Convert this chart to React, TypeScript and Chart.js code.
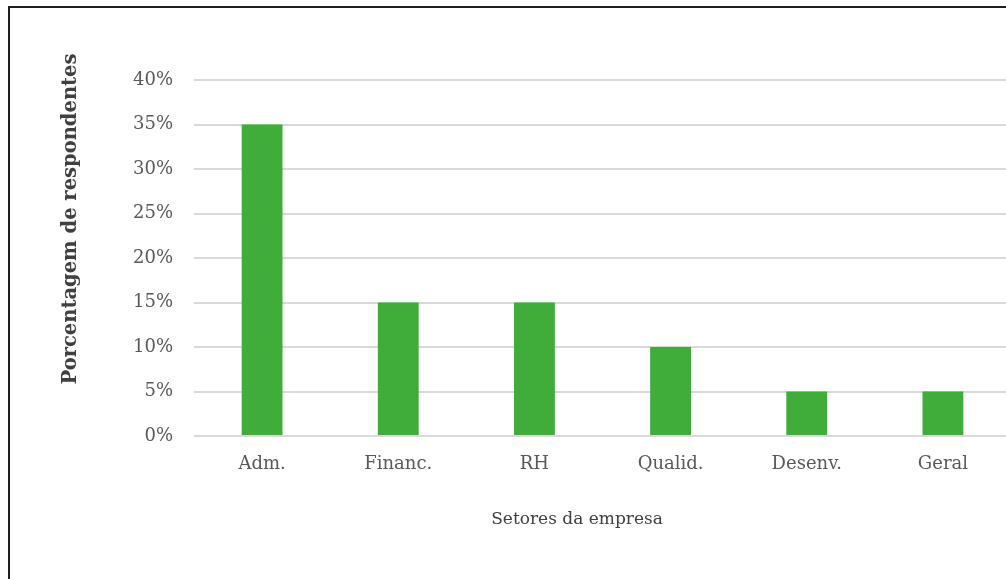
import React, { useEffect, useRef } from "react";
import { Chart, registerables } from "chart.js";

Chart.register(...registerables);

// Share of respondents by company sector (%)
const sectors: string[] = ["Adm.", "Financ.", "RH", "Qualid.", "Desenv.", "Geral"];
const respondentShare: number[] = [35, 15, 15, 10, 5, 5];
const yTickValues: number[] = [0, 5, 10, 15, 20, 25, 30, 35, 40];

const yTitle = "Porcentagem de respondentes";
const xTitle = "Setores da empresa";

const FONT = "'DejaVu Serif', serif";
const BAR_GREEN = "#40ad3a";
const GRID_GREY = "#d9d9d9";
const TICK_GREY = "#595959";
const TITLE_GREY = "#404040";

// Axis titles are placed by hand, relative to the plot area
const axisTitles = {
  id: "axisTitles",
  afterDraw(chart: Chart) {
    const { ctx, chartArea } = chart;
    ctx.save();
    ctx.fillStyle = TITLE_GREY;
    ctx.textAlign = "center";
    ctx.textBaseline = "middle";

    ctx.font = `bold 19.5px ${FONT}`;
    ctx.translate(chartArea.left - 123, chartArea.top + 139);
    ctx.rotate(-Math.PI / 2);
    ctx.fillText(yTitle, 0, 0);
    ctx.restore();

    ctx.save();
    ctx.fillStyle = TITLE_GREY;
    ctx.textAlign = "center";
    ctx.textBaseline = "middle";
    ctx.font = `17px ${FONT}`;
    ctx.fillText(xTitle, chartArea.left + 383, chartArea.bottom + 84);
    ctx.restore();
  },
};

export default function App() {
  const canvasRef = useRef<HTMLCanvasElement | null>(null);

  useEffect(() => {
    const canvas = canvasRef.current;
    if (!canvas) return;
    const chart = new Chart(canvas, {
      type: "bar",
      data: {
        labels: sectors,
        datasets: [
          {
            data: respondentShare,
            backgroundColor: BAR_GREEN,
            borderWidth: 0,
            barPercentage: 0.6,
            categoryPercentage: 0.5,
          },
        ],
      },
      options: {
        responsive: false,
        animation: false,
        devicePixelRatio: 1,
        layout: { padding: { top: 80, left: 0, right: 0, bottom: 0 } },
        plugins: {
          legend: { display: false },
          tooltip: { enabled: false },
        },
        scales: {
          x: {
            offset: true,
            grid: { display: false, drawTicks: false },
            border: { display: false },
            ticks: {
              color: TICK_GREY,
              font: { family: FONT, size: 18 },
              padding: 18,
              maxRotation: 0,
            },
            afterFit(scale: any) {
              scale.height = 143;
            },
          },
          y: {
            min: 0,
            max: 40,
            afterBuildTicks(scale: any) {
              scale.ticks = yTickValues.map((v) => ({ value: v }));
            },
            grid: {
              color: GRID_GREY,
              lineWidth: 2,
              drawTicks: false,
            },
            border: { display: false },
            ticks: {
              color: TICK_GREY,
              font: { family: FONT, size: 18 },
              padding: 21,
              callback: (v: any) => `${v}%`,
            },
            afterFit(scale: any) {
              scale.width = 194;
            },
          },
        },
      },
      plugins: [axisTitles],
    });
    return () => chart.destroy();
  }, []);

  return (
    <div
      style={{
        position: "fixed",
        left: 0,
        top: 0,
        width: 1006,
        height: 579,
        overflow: "hidden",
        background: "#ffffff",
      }}
    >
      <div
        style={{
          position: "absolute",
          left: 8,
          top: 6,
          width: 1100,
          height: 700,
          borderLeft: "2px solid #1e1e1e",
          borderTop: "2px solid #1e1e1e",
        }}
      />
      <canvas
        ref={canvasRef}
        width={1011}
        height={579}
        style={{ position: "absolute", left: 0, top: 0 }}
      />
    </div>
  );
}
